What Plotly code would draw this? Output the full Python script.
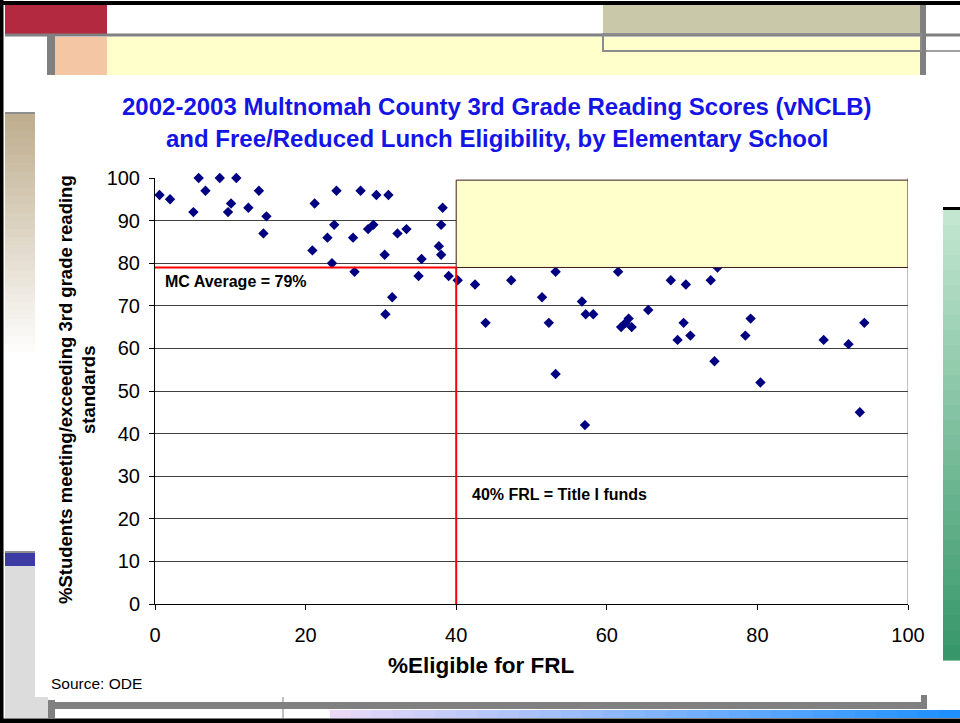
import plotly.graph_objects as go

# ---------------- data ----------------
frl_pct = [0.6, 2.0, 5.1, 5.8, 6.7, 8.6, 9.7, 10.1, 10.8, 12.4, 13.8, 14.4, 14.8,
           20.9, 21.2, 22.9, 23.5, 23.8, 24.1, 26.3, 26.5, 27.3, 28.3, 29.0, 29.4,
           30.5, 30.6, 31.0, 31.5, 32.2, 33.4, 35.0, 35.4, 37.7, 38.0, 38.0, 38.2,
           39.0, 40.2, 42.5, 43.9, 47.3, 51.4, 52.3, 53.2, 53.2, 56.7, 57.1, 57.2,
           58.2, 61.5, 61.9, 62.5, 62.9, 63.3, 65.5, 68.5, 69.4, 70.2, 70.5, 71.1,
           73.8, 74.3, 74.7, 78.4, 79.1, 80.4, 88.8, 92.1, 93.6, 94.2]
reading_pct = [96, 95, 92, 100, 97, 100, 92, 94, 100, 93, 97, 87, 91,
               83, 94, 86, 80, 89, 97, 86, 78, 97, 88, 89, 96,
               82, 68, 96, 72, 87, 88, 77, 81, 84, 89, 82, 93,
               77, 76, 75, 66, 76, 72, 66, 78, 54, 71, 42, 68,
               68, 78, 65, 66, 67, 65, 69, 76, 62, 66, 75, 63,
               76, 57, 79, 63, 67, 52, 62, 61, 45, 66]

mc_average = 79
title_i_threshold = 40
x_ticks = [0, 20, 40, 60, 80, 100]
y_ticks = [0, 10, 20, 30, 40, 50, 60, 70, 80, 90, 100]

title_lines = ["2002-2003 Multnomah County 3rd Grade Reading Scores (vNCLB)",
               "and Free/Reduced Lunch Eligibility, by Elementary School"]
y_title_lines = ["%Students meeting/exceeding 3rd grade reading", "standards"]
x_title = "%Eligible for FRL"
source_text = "Source: ODE"
avg_label = "MC Average = 79%"
frl_label = "40% FRL = Title I funds"

# ---------------- layout geometry ----------------
W, H = 960, 723
ML, MR, MT, MB = 155, 52, 178, 119
PW, PH = W - ML - MR, H - MT - MB


def px(x):
    return (x - ML) / PW


def py(y):
    return (H - MB - y) / PH


shapes = []


def rect(x0, y0, x1, y1, fill, line_color=None, line_width=0, layer="below"):
    shapes.append(dict(type="rect", xref="paper", yref="paper",
                       x0=px(x0), x1=px(x1), y0=py(y1), y1=py(y0),
                       fillcolor=fill, layer=layer,
                       line=dict(color=line_color or fill, width=line_width)))


def line(x0, y0, x1, y1, color, width, layer="below"):
    shapes.append(dict(type="line", xref="paper", yref="paper",
                       x0=px(x0), x1=px(x1), y0=py(y0), y1=py(y1),
                       layer=layer, line=dict(color=color, width=width)))


def hexrgb(h):
    h = h.lstrip("#")
    return [int(h[i:i + 2], 16) for i in (0, 2, 4)]


def gradient(x0, y0, x1, y1, c0, c1, vertical=True, n=30):
    a, b = hexrgb(c0), hexrgb(c1)
    for i in range(n):
        t = i / (n - 1)
        c = "rgb(%d,%d,%d)" % tuple(round(a[k] + (b[k] - a[k]) * t) for k in range(3))
        if vertical:
            ya = y0 + (y1 - y0) * i / n
            yb = y0 + (y1 - y0) * (i + 1) / n + 0.6
            rect(x0, ya, x1, yb, c)
        else:
            xa = x0 + (x1 - x0) * i / n
            xb = x0 + (x1 - x0) * (i + 1) / n + 0.6
            rect(xa, y0, xb, y1, c)


# slide decorations
rect(5, 5, 107, 34, "#B3293F")
rect(603, 5, 920, 34, "#C9C8A9")
rect(107, 37, 920, 75, "#FFFFCC")
rect(55, 37, 107, 75, "#F5C6A4")
rect(47, 36, 55, 75, "#808080")
rect(920, 5, 926, 75, "#808080")
line(5, 35, 960, 35, "#808080", 3)
rect(603, 34, 921, 51, "rgba(0,0,0,0)", "#8C8C8C", 2)
line(926, 51, 960, 51, "#A0A0A0", 2)
gradient(5, 114, 35, 360, "#BFAE8F", "#FFFFFF")
line(5, 113, 35, 113, "#909090", 2)
rect(5, 566, 35, 718, "#DCDCDC")
rect(35, 697, 48, 718, "#DCDCDC")
rect(5, 553, 35, 566, "#3B3BA3")
line(5, 552, 35, 552, "#909090", 2)
rect(48, 700, 55, 718, "#808080")
rect(48, 702, 926, 709, "#808080")
line(283, 697, 283, 718, "#808080", 1)
gradient(330, 710, 960, 718, "#E9D9F7", "#1E90FF", vertical=False)
rect(921, 695, 927, 709, "#808080")
gradient(943, 210, 960, 660, "#C3E6D1", "#37976A")
line(943, 208.5, 960, 208.5, "#000000", 3)
# outer border
line(1.5, 0, 1.5, 723, "#000000", 4)
line(0, 3, 960, 3, "#000000", 4)
line(0, 721, 960, 721, "#000000", 5)

# chart elements
shapes.append(dict(type="line", xref="x", yref="y", x0=100, x1=100, y0=0, y1=100,
                   line=dict(color="#808080", width=1), layer="below"))
shapes.append(dict(type="rect", xref="x", yref="y",
                   x0=title_i_threshold, x1=100, y0=mc_average, y1=99.5,
                   fillcolor="#FFFFCC", line=dict(color="#3A1A1A", width=1), layer="above"))
shapes.append(dict(type="line", xref="x", yref="y", x0=-0.4, x1=title_i_threshold,
                   y0=mc_average, y1=mc_average,
                   line=dict(color="#FF0000", width=2), layer="above"))
shapes.append(dict(type="line", xref="x", yref="y", x0=title_i_threshold, x1=title_i_threshold,
                   y0=0, y1=mc_average,
                   line=dict(color="#FF0000", width=2), layer="above"))

fig = go.Figure()
fig.add_trace(go.Scatter(
    x=frl_pct, y=reading_pct, mode="markers",
    marker=dict(symbol="diamond", size=8, color="#000080",
                line=dict(width=0)),
    showlegend=False, cliponaxis=False, hoverinfo="x+y"))

font_main = "Liberation Sans, Arial, sans-serif"
title_blue = "#1414E6"

annotations = [
    dict(text=title_lines[0], xref="paper", yref="paper", x=px(497), y=py(107),
         xanchor="center", yanchor="middle", showarrow=False,
         font=dict(family=font_main, size=24, color=title_blue, weight="bold")),
    dict(text=title_lines[1], xref="paper", yref="paper", x=px(497), y=py(138),
         xanchor="center", yanchor="middle", showarrow=False,
         font=dict(family=font_main, size=24, color=title_blue, weight="bold")),
    dict(text=y_title_lines[0], xref="paper", yref="paper", x=px(65), y=py(390),
         xanchor="center", yanchor="middle", textangle=-90, showarrow=False,
         font=dict(family=font_main, size=18.5, color="#000000", weight="bold")),
    dict(text=y_title_lines[1], xref="paper", yref="paper", x=px(88), y=py(390),
         xanchor="center", yanchor="middle", textangle=-90, showarrow=False,
         font=dict(family=font_main, size=18.5, color="#000000", weight="bold")),
    dict(text=x_title, xref="paper", yref="paper", x=px(481), y=py(665),
         xanchor="center", yanchor="middle", showarrow=False,
         font=dict(family=font_main, size=22.5, color="#000000", weight="bold")),
    dict(text=source_text, xref="paper", yref="paper", x=px(49), y=py(683),
         xanchor="left", yanchor="middle", showarrow=False,
         font=dict(family=font_main, size=15.5, color="#000000")),
    dict(text=avg_label, xref="x", yref="y", x=1.06, y=75.8,
         xanchor="left", yanchor="middle", showarrow=False,
         font=dict(family=font_main, size=16, color="#000000", weight="bold")),
    dict(text=frl_label, xref="x", yref="y", x=41.8, y=25.8,
         xanchor="left", yanchor="middle", showarrow=False,
         font=dict(family=font_main, size=16, color="#000000", weight="bold")),
]

fig.update_layout(
    width=W, height=H,
    margin=dict(l=ML, r=MR, t=MT, b=MB, pad=0),
    paper_bgcolor="#FFFFFF", plot_bgcolor="#FFFFFF",
    shapes=shapes, annotations=annotations,
    font=dict(family=font_main, color="#000000"),
    xaxis=dict(range=[0, 100], tickvals=x_ticks, showgrid=False, zeroline=False,
               showline=True, linecolor="#000000", linewidth=1,
               ticks="outside", ticklen=5, tickcolor="#000000",
               ticklabelstandoff=8,
               tickfont=dict(family=font_main, size=20, color="#000000")),
    yaxis=dict(range=[0, 100], tickvals=y_ticks, showgrid=True, gridcolor="#404040",
               gridwidth=1, zeroline=False,
               showline=True, linecolor="#000000", linewidth=1,
               ticks="outside", ticklen=5, tickcolor="#000000",
               ticklabelstandoff=5,
               tickfont=dict(family=font_main, size=20, color="#000000")),
)

fig.write_html("out.html",
               config={"displayModeBar": False},
               post_script="document.body.style.margin='0';"
                           "document.body.style.overflow='hidden';")
